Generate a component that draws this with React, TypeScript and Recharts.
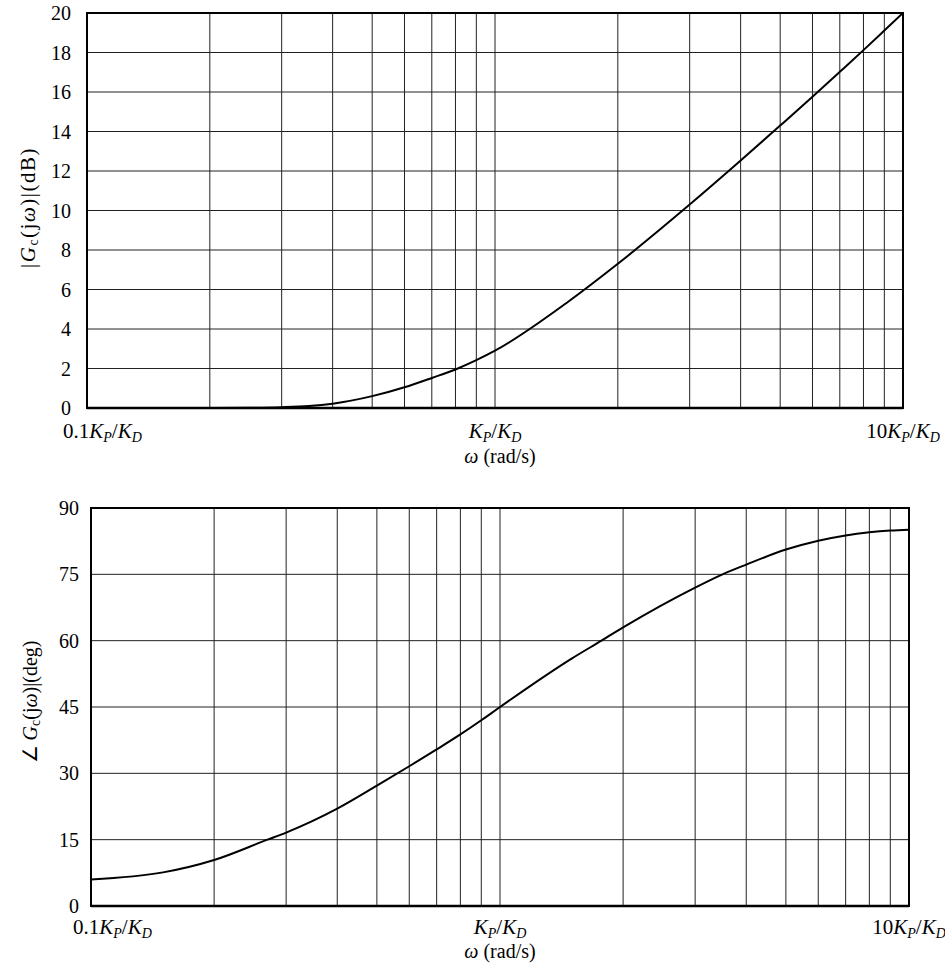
import React from 'react';
import { LineChart, Line, XAxis, YAxis, CartesianGrid, ReferenceArea, Label } from 'recharts';

// Frequency in units of Kp/Kd
const magFreq = [0.1, 0.2, 0.25, 0.3, 0.35, 0.4, 0.5, 0.6, 0.7, 0.8, 0.9, 1.0, 1.5, 2, 3, 4, 5, 6, 7, 8, 9, 10];
const magDb = [0, 0, 0.01, 0.04, 0.1, 0.22, 0.6, 1.05, 1.52, 1.95, 2.42, 2.9, 5.33, 7.3, 10.3, 12.53, 14.3, 15.76, 17.02, 18.12, 19.11, 20.0];

const phaseFreq = [0.1, 0.15, 0.2, 0.27, 0.3, 0.4, 0.5, 0.6, 0.7, 0.8, 0.9, 1.0, 1.5, 1.77, 2.0, 3.0, 3.5, 4.0, 5.0, 6.0, 7.0, 8.0, 9.0, 10];
const phaseDeg = [6.0, 7.6, 10.4, 15.0, 16.6, 22.0, 27.2, 31.6, 35.4, 38.8, 42.0, 45.0, 56.0, 60.0, 63.0, 72.0, 75.0, 77.2, 80.6, 82.6, 83.8, 84.5, 84.9, 85.1];

const gridFreqs = [0.1, 0.2, 0.3, 0.4, 0.5, 0.6, 0.7, 0.8, 0.9, 1, 2, 3, 4, 5, 6, 7, 8, 9, 10];
const labelledFreqs = [0.1, 1, 10];
const labelPrefixes = ['0.1', '', '10'];
const magTicks = [0, 2, 4, 6, 8, 10, 12, 14, 16, 18, 20];
const phaseTicks = [0, 15, 30, 45, 60, 75, 90];

const magData = magFreq.map((w, i) => ({ w, v: magDb[i] }));
const phaseData = phaseFreq.map((w, i) => ({ w, v: phaseDeg[i] }));

const FONT = '"Liberation Serif", "Times New Roman", serif';

const makeXTick = (baseline: number, firstShift: number) => (props: any) => {
  const { x, y, payload } = props;
  const idx = labelledFreqs.findIndex((f) => Math.abs(f - payload.value) < 1e-9);
  if (idx < 0) return <g />;
  const first = idx === 0;
  return (
    <text
      x={first ? x - firstShift : x}
      y={y + baseline}
      textAnchor={first ? 'start' : 'middle'}
      fontFamily={FONT}
      fontSize={21}
      fill="#000"
    >
      {labelPrefixes[idx] ? <tspan>{labelPrefixes[idx]}</tspan> : null}
      <tspan fontStyle="italic">K</tspan>
      <tspan fontStyle="italic" fontSize={14} dy={4}>P</tspan>
      <tspan dy={-4}>/</tspan>
      <tspan fontStyle="italic">K</tspan>
      <tspan fontStyle="italic" fontSize={14} dy={4}>D</tspan>
    </text>
  );
};

const TopXTick = makeXTick(30, 24);
const BottomXTick = makeXTick(28, 18);

const YTick = (props: any) => {
  const { x, y, payload } = props;
  return (
    <text x={x} y={y} dy="0.35em" textAnchor="end" fontFamily={FONT} fontSize={20} fill="#000">
      {payload.value}
    </text>
  );
};

const xTitle = (dy: number, dx: number) => (p: any) => {
  const vb = p.viewBox || {};
  const cx = vb.x + vb.width / 2 + dx;
  const cy = vb.y + dy;
  return (
    <text x={cx} y={cy} textAnchor="middle" fontFamily={FONT} fontSize={20} fill="#000">
      <tspan fontStyle="italic">ω</tspan>
      <tspan> (rad/s)</tspan>
    </text>
  );
};

const magTitle = (p: any) => {
  const vb = p.viewBox || {};
  const cx = vb.x + 1;
  const cy = vb.y + vb.height / 2 - 3;
  return (
    <text
      x={cx}
      y={cy}
      textAnchor="middle"
      dominantBaseline="central"
      transform={`rotate(-90, ${cx}, ${cy})`}
      fontFamily={FONT}
      fontSize={21}
      letterSpacing={1.5}
      fill="#000"
    >
      <tspan>|</tspan>
      <tspan fontStyle="italic">G</tspan>
      <tspan fontSize={14} dy={5}>c</tspan>
      <tspan dy={-5}>(j</tspan>
      <tspan fontStyle="italic">ω</tspan>
      <tspan>)|(dB)</tspan>
    </text>
  );
};

const phaseTitle = (p: any) => {
  const vb = p.viewBox || {};
  const cx = vb.x - 1;
  const cy = vb.y + vb.height / 2 - 5;
  return (
    <text
      x={cx}
      y={cy}
      textAnchor="middle"
      dominantBaseline="central"
      transform={`rotate(-90, ${cx}, ${cy})`}
      fontFamily={FONT}
      fontSize={20}
      fill="#000"
    >
      <tspan>∠ </tspan>
      <tspan fontStyle="italic">G</tspan>
      <tspan fontSize={14} dy={5}>c</tspan>
      <tspan dy={-5}>(j</tspan>
      <tspan fontStyle="italic">ω</tspan>
      <tspan>)|(deg)</tspan>
    </text>
  );
};

export default function App() {
  return (
    <div style={{ position: 'absolute', left: 0, top: 0, width: 945, height: 965, background: '#fff' }}>
      <div style={{ width: 945, height: 485 }}>
        <LineChart width={945} height={485} data={magData} margin={{ top: 13, right: 42, bottom: 27, left: 27 }}>
          <CartesianGrid stroke="#222" strokeWidth={1} />
          <XAxis
            dataKey="w"
            type="number"
            scale="log"
            domain={[0.1, 10]}
            ticks={gridFreqs}
            interval={0}
            allowDataOverflow
            height={50}
            tickSize={0}
            tickMargin={0}
            tickLine={false}
            axisLine={{ stroke: '#000', strokeWidth: 2.5 }}
            tick={<TopXTick />}
          >
            <Label content={xTitle(55, 5)} />
          </XAxis>
          <YAxis
            type="number"
            domain={[0, 20]}
            ticks={magTicks}
            interval={0}
            width={60}
            tickSize={0}
            tickMargin={16}
            tickLine={false}
            axisLine={{ stroke: '#000', strokeWidth: 2 }}
            tick={<YTick />}
          >
            <Label content={magTitle} />
          </YAxis>
          <ReferenceArea x1={0.1} x2={10} y1={0} y2={20} fill="none" stroke="#000" strokeWidth={2} ifOverflow="visible" />
          <Line dataKey="v" type="monotone" stroke="#000" strokeWidth={2} dot={false} isAnimationActive={false} />
        </LineChart>
      </div>
      <div style={{ width: 945, height: 480 }}>
        <LineChart width={945} height={480} data={phaseData} margin={{ top: 23, right: 36, bottom: 19, left: 31 }}>
          <CartesianGrid stroke="#222" strokeWidth={1} />
          <XAxis
            dataKey="w"
            type="number"
            scale="log"
            domain={[0.1, 10]}
            ticks={gridFreqs}
            interval={0}
            allowDataOverflow
            height={40}
            tickSize={0}
            tickMargin={0}
            tickLine={false}
            axisLine={{ stroke: '#000', strokeWidth: 2.5 }}
            tick={<BottomXTick />}
          >
            <Label content={xTitle(52, 0)} />
          </XAxis>
          <YAxis
            type="number"
            domain={[0, 90]}
            ticks={phaseTicks}
            interval={0}
            width={60}
            tickSize={0}
            tickMargin={12}
            tickLine={false}
            axisLine={{ stroke: '#000', strokeWidth: 2 }}
            tick={<YTick />}
          >
            <Label content={phaseTitle} />
          </YAxis>
          <ReferenceArea x1={0.1} x2={10} y1={0} y2={90} fill="none" stroke="#000" strokeWidth={2} ifOverflow="visible" />
          <Line dataKey="v" type="monotone" stroke="#000" strokeWidth={2} dot={false} isAnimationActive={false} />
        </LineChart>
      </div>
    </div>
  );
}
